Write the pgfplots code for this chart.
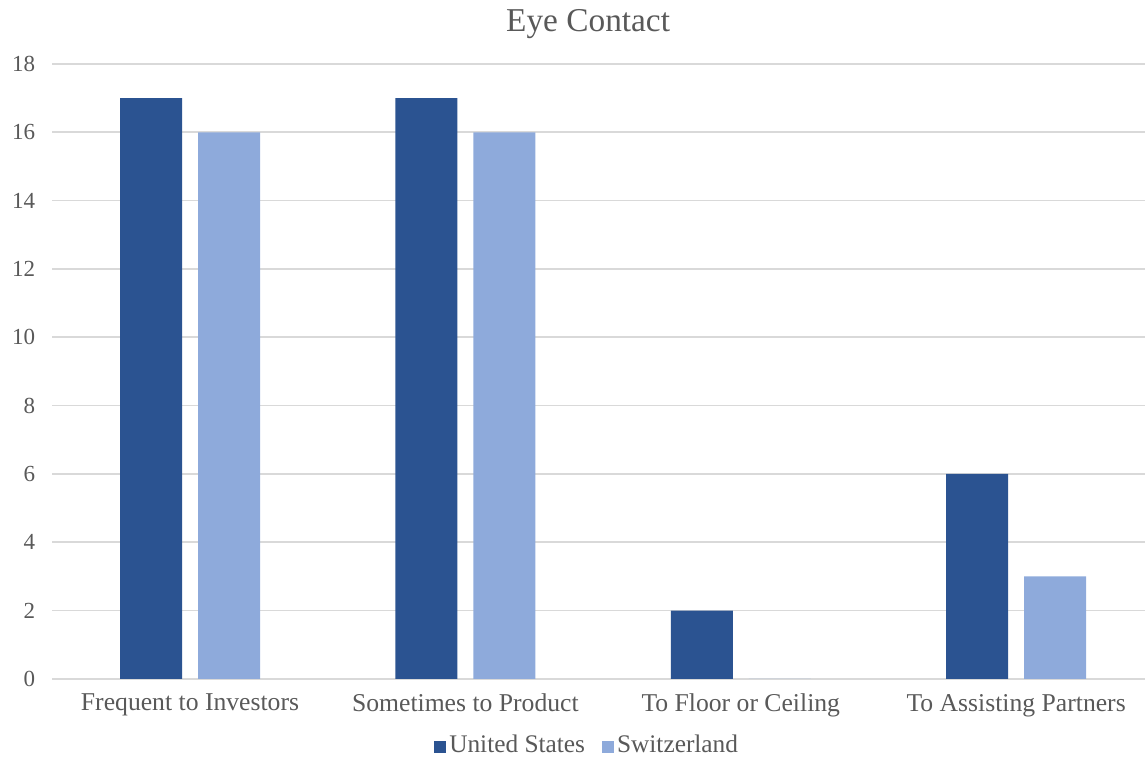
\documentclass[border=0pt]{standalone}
\usepackage{pgfplots}
\pgfplotsset{compat=1.18}
\usepackage{fontspec}
\setmainfont{Liberation Serif}
\definecolor{usblue}{HTML}{2B5391}
\definecolor{chblue}{HTML}{8EAADB}
\definecolor{txtgray}{HTML}{595959}
\definecolor{gridgray}{HTML}{D9D9D9}
\begin{document}
\begin{tikzpicture}
\useasboundingbox (-31.4pt,-46.8pt) rectangle (655.6pt,407.4pt);
\begin{axis}[
  at={(0,0)}, anchor=south west,
  scale only axis,
  width=660.9pt, height=369pt,
  ybar=9.6pt, bar width=37.2pt,
  xmin=-0.5, xmax=3.5,
  ymin=0, ymax=18,
  ytick={0,2,...,18},
  xtick=data,
  xticklabels={Frequent to Investors, Sometimes to Product, To Floor or Ceiling, To Assisting Partners},
  axis line style={draw=none},
  major tick length=0pt,
  ymajorgrids,
  grid style={gridgray, line width=1pt},
  tick label style={font=\fontsize{13.8}{16}\selectfont, text=txtgray},
  /pgf/number format/assume math mode=true,
  yticklabel style={xshift=-6.8pt},
  xticklabel style={yshift=-5.5pt, font=\fontsize{15.4}{18}\selectfont},
  title={Eye Contact},
  title style={font=\fontsize{20}{24}\selectfont, text=txtgray, anchor=center, at={(rel axis cs:0.4864,1)}, yshift=18pt},
  legend columns=2,
  legend style={draw=none, at={(0.486,0)}, anchor=center, yshift=-39.6pt,
    font=\fontsize{15.2}{18}\selectfont, text=txtgray,
    /tikz/every even column/.append style={column sep=8pt}},
  legend image code/.code={\fill[#1] (0pt,-4.5pt) rectangle (7.2pt,2.7pt);},
]
\addplot[fill=usblue, draw=none] coordinates {(0,17) (1,17) (2,2) (3,6)};
\addplot[fill=chblue, draw=none] coordinates {(0,16) (1,16) (2,0) (3,3)};
\legend{United States, Switzerland}
\end{axis}
\end{tikzpicture}
\end{document}
